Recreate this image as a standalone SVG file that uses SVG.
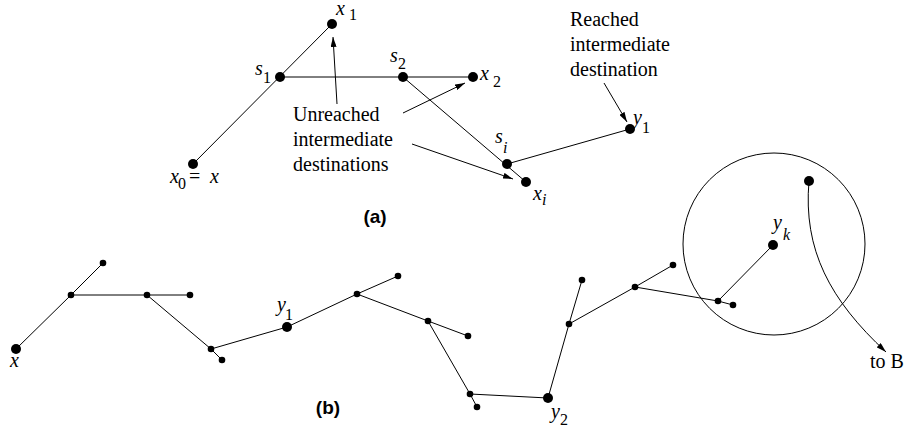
<svg xmlns="http://www.w3.org/2000/svg" width="915" height="429" viewBox="0 0 915 429">
<style>
.e{stroke:#000;stroke-width:1;fill:none}
.a{stroke:#000;stroke-width:1;fill:none;marker-end:url(#ah)}
.big{fill:#000}
.sm{fill:#000}
.v{font-family:"Liberation Serif",serif;font-style:italic;font-size:20px;fill:#000}
.s{font-family:"Liberation Serif",serif;font-size:16px;fill:#000}
.si{font-family:"Liberation Serif",serif;font-style:italic;font-size:16px;fill:#000}
.t{font-family:"Liberation Serif",serif;font-size:20px;fill:#000}
.cap{font-family:"Liberation Sans",Arial,sans-serif;font-weight:bold;font-size:19px;fill:#000;text-anchor:middle}
</style>
<defs>
<marker id="ah" viewBox="0 0 10 6" refX="10" refY="3" markerWidth="10" markerHeight="6" markerUnits="userSpaceOnUse" orient="auto">
<path d="M0,0 L10,3 L0,6 Z" fill="#000"/>
</marker>
</defs>
<rect width="915" height="429" fill="#fff"/>
<g id="connectors">
<line class="e" x1="193" y1="164" x2="332" y2="24"/>
<line class="e" x1="280" y1="77" x2="473" y2="77"/>
<line class="e" x1="403" y1="77" x2="526" y2="182"/>
<line class="e" x1="507" y1="164" x2="630" y2="129"/>
<line class="a" x1="337" y1="104" x2="333" y2="37"/>
<line class="a" x1="403" y1="113" x2="465" y2="83"/>
<line class="a" x1="412" y1="144" x2="513" y2="179"/>
<line class="a" x1="604" y1="83" x2="627" y2="122"/>
<polyline class="e" points="16,349 71,295 147,295 211,349 287,327 357,294 428,321 470,394 548,398 569,324 635,287 718,301 773,245"/>
<line class="e" x1="71" y1="295" x2="103" y2="263"/>
<line class="e" x1="147" y1="295" x2="190" y2="295"/>
<line class="e" x1="211" y1="349" x2="222" y2="360"/>
<line class="e" x1="357" y1="294" x2="398" y2="276"/>
<line class="e" x1="428" y1="321" x2="468" y2="336"/>
<line class="e" x1="470" y1="394" x2="477" y2="407"/>
<line class="e" x1="569" y1="324" x2="582" y2="280"/>
<line class="e" x1="635" y1="287" x2="673" y2="265"/>
<line class="e" x1="718" y1="301" x2="733" y2="305"/>
<circle class="e" cx="774" cy="244" r="91"/>
<path class="a" d="M809,181 C803,250 830,300 886,352"/>
</g>
<g id="x1"><circle class="big" cx="332" cy="24" r="5"/><text class="v" x="336" y="15">x</text><text class="s" x="349" y="20">1</text></g>
<g id="s1"><circle class="big" cx="280" cy="77" r="5"/><text class="v" x="255" y="75">s</text><text class="s" x="263" y="83">1</text></g>
<g id="s2"><circle class="big" cx="403" cy="77" r="5"/><text class="v" x="390" y="62">s</text><text class="s" x="398" y="69">2</text></g>
<g id="x2"><circle class="big" cx="473" cy="77" r="5"/><text class="v" x="480" y="80">x</text><text class="s" x="493" y="87">2</text></g>
<g id="x0"><circle class="big" cx="193" cy="164" r="5"/><text class="v" x="170" y="183">x</text><text class="s" x="178" y="189">0</text><text class="t" x="189" y="183">=</text><text class="v" x="210" y="183">x</text></g>
<g id="si"><circle class="big" cx="507" cy="164" r="5"/><text class="v" x="495" y="143">s</text><text class="si" x="503" y="153">i</text></g>
<g id="xi"><circle class="big" cx="526" cy="182" r="5"/><text class="v" x="533" y="200">x</text><text class="si" x="542" y="205">i</text></g>
<g id="y1a"><circle class="big" cx="630" cy="129" r="5"/><text class="v" x="633" y="124">y</text><text class="s" x="642" y="133">1</text></g>
<g id="unreached-label"><text class="t" x="293" y="121">Unreached</text><text class="t" x="293" y="146">intermediate</text><text class="t" x="293" y="171">destinations</text></g>
<g id="reached-label"><text class="t" x="570" y="26">Reached</text><text class="t" x="570" y="51">intermediate</text><text class="t" x="570" y="76">destination</text></g>
<text class="cap" x="375" y="223">(a)</text>
<g id="bx"><circle class="big" cx="16" cy="349" r="5"/><text class="v" x="10" y="367">x</text></g>
<g id="b1"><circle class="sm" cx="71" cy="295" r="3.3"/></g>
<g id="b2"><circle class="sm" cx="103" cy="263" r="3.3"/></g>
<g id="b3"><circle class="sm" cx="147" cy="295" r="3.3"/></g>
<g id="b4"><circle class="sm" cx="190" cy="295" r="3.3"/></g>
<g id="b5"><circle class="sm" cx="211" cy="349" r="3.3"/></g>
<g id="b6"><circle class="sm" cx="222" cy="360" r="3.3"/></g>
<g id="by1"><circle class="big" cx="287" cy="327" r="5"/><text class="v" x="277" y="311">y</text><text class="s" x="285" y="320">1</text></g>
<g id="b7"><circle class="sm" cx="357" cy="294" r="3.3"/></g>
<g id="b8"><circle class="sm" cx="398" cy="276" r="3.3"/></g>
<g id="b9"><circle class="sm" cx="428" cy="321" r="3.3"/></g>
<g id="b10"><circle class="sm" cx="468" cy="336" r="3.3"/></g>
<g id="b11"><circle class="sm" cx="470" cy="394" r="3.3"/></g>
<g id="b12"><circle class="sm" cx="477" cy="407" r="3.3"/></g>
<g id="by2"><circle class="big" cx="548" cy="398" r="5"/><text class="v" x="551" y="418">y</text><text class="s" x="560" y="425">2</text></g>
<g id="b13"><circle class="sm" cx="569" cy="324" r="3.3"/></g>
<g id="b14"><circle class="sm" cx="582" cy="280" r="3.3"/></g>
<g id="b15"><circle class="sm" cx="635" cy="287" r="3.3"/></g>
<g id="b16"><circle class="sm" cx="673" cy="265" r="3.3"/></g>
<g id="b17"><circle class="sm" cx="718" cy="301" r="3.3"/></g>
<g id="b18"><circle class="sm" cx="733" cy="305" r="3.3"/></g>
<g id="byk"><circle class="big" cx="773" cy="245" r="5"/><text class="v" x="773" y="229">y</text><text class="si" x="783" y="240">k</text></g>
<g id="btop"><circle class="big" cx="809" cy="181" r="5"/></g>
<g id="toB"><text class="t" x="870" y="368">to B</text></g>
<text class="cap" x="328" y="414">(b)</text>
</svg>
